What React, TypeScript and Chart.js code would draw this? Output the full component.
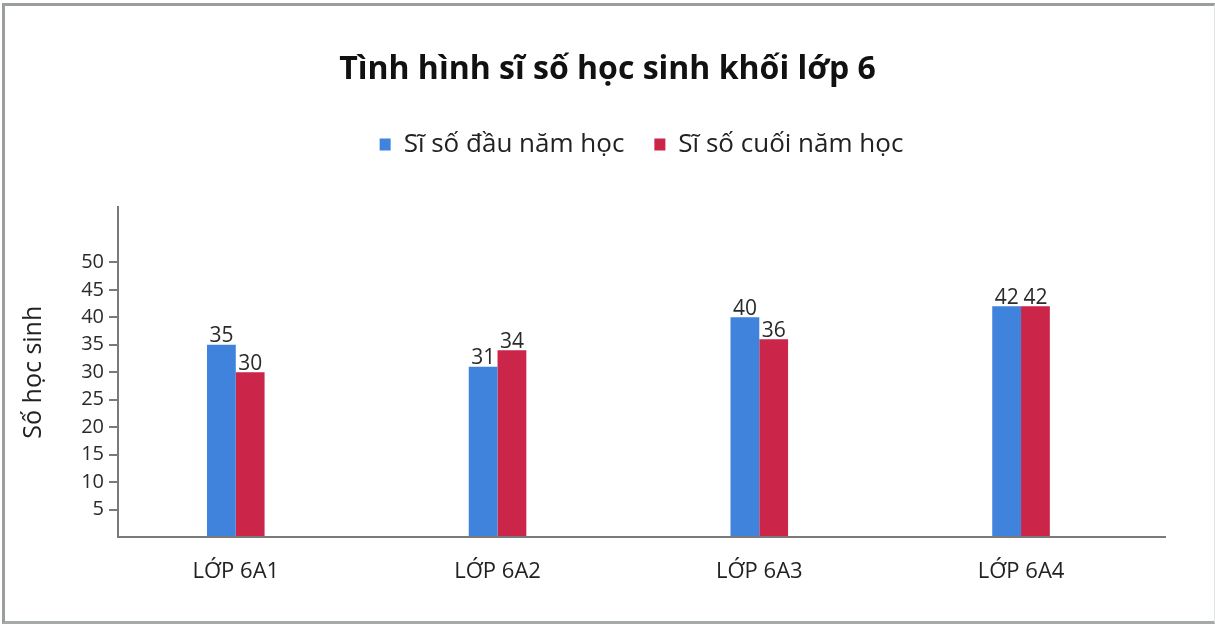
import React, { useEffect, useRef } from "react";
import { Chart, registerables } from "chart.js";

Chart.register(...registerables);

const categories = ["LỚP 6A1", "LỚP 6A2", "LỚP 6A3", "LỚP 6A4"];
const startOfYear = [35, 31, 40, 42];
const endOfYear = [30, 34, 36, 42];
const seriesNames = ["Sĩ số đầu năm học", "Sĩ số cuối năm học"];
const yTickValues = [5, 10, 15, 20, 25, 30, 35, 40, 45, 50];
const chartTitle = "Tình hình sĩ số học sinh khối lớp 6";
const yAxisTitle = "Số học sinh";

const BLUE = "#3f83dc";
const RED = "#cb2549";
const FONT = "'Open Sans', 'Noto Sans', sans-serif";

const valueLabels = {
  id: "valueLabels",
  afterDatasetsDraw(chart: any) {
    const ctx = chart.ctx;
    ctx.save();
    ctx.font = `21px ${FONT}`;
    ctx.fillStyle = "#2a2a2a";
    ctx.textAlign = "center";
    ctx.textBaseline = "bottom";
    chart.data.datasets.forEach((ds: any, di: number) => {
      const meta = chart.getDatasetMeta(di);
      meta.data.forEach((el: any, i: number) => {
        const v = ds.data[i].y;
        ctx.fillText(String(v), el.x, el.y + 2);
      });
    });
    ctx.restore();
  },
};

export default function App() {
  const ref = useRef<HTMLCanvasElement>(null);
  useEffect(() => {
    if (!ref.current) return;
    const chart = new Chart(ref.current, {
      type: "bar",
      data: {
        datasets: [
          {
            label: seriesNames[0],
            data: startOfYear.map((v, i) => ({ x: i, y: v })),
            backgroundColor: BLUE,
            categoryPercentage: 0.22,
            barPercentage: 1,
          },
          {
            label: seriesNames[1],
            data: endOfYear.map((v, i) => ({ x: i, y: v })),
            backgroundColor: RED,
            categoryPercentage: 0.22,
            barPercentage: 1,
          },
        ],
      },
      options: {
        animation: false,
        responsive: false,
        maintainAspectRatio: false,
        layout: { padding: 0 },
        plugins: {
          tooltip: { enabled: false },
          title: {
            display: true,
            text: chartTitle,
            color: "#111",
            font: { family: FONT, size: 32, weight: "bold", lineHeight: 1.2 },
            padding: { top: 51, bottom: 12 },
          },
          legend: {
            display: true,
            position: "top",
            fullSize: false,
            labels: {
              color: "#222",
              font: { family: FONT, size: 26 },
              boxWidth: 11,
              boxHeight: 12,
              padding: 30,
            },
          },
          subtitle: {
            display: true,
            text: " ",
            color: "rgba(0,0,0,0)",
            weight: 500,
            font: { size: 10, lineHeight: 1.2 },
            padding: { top: 28, bottom: 0 },
          },
        },
        scales: {
          x: {
            type: "linear",
            offset: false,
            min: -0.45,
            max: 3.55,
            afterBuildTicks: (s: any) => {
              s.ticks = categories.map((_, i) => ({ value: i }));
            },
            afterFit: (s: any) => {
              s.height = 87;
            },
            ticks: {
              autoSkip: false,
              maxRotation: 0,
              padding: 22,
              color: "#222",
              font: { family: FONT, size: 22 },
              callback: (v: any) => categories[v] ?? "",
            },
            grid: { display: true, offset: false, drawOnChartArea: false, drawTicks: false },
            border: { display: true, color: "#7a7a7a", width: 2 },
          },
          y: {
            type: "linear",
            min: 0,
            max: 60,
            afterFit: (s: any) => {
              s.width = 118;
            },
            title: {
              display: true,
              text: yAxisTitle,
              color: "#222",
              font: { family: FONT, size: 25 },
              padding: { top: 19, bottom: 0 },
            },
            ticks: {
              stepSize: 5,
              padding: 5,
              color: "#2a2a2a",
              font: { family: FONT, size: 20 },
              callback: (v: any) => (yTickValues.includes(v) ? String(v) : ""),
            },
            grid: {
              drawOnChartArea: false,
              drawTicks: true,
              tickLength: 9,
              lineWidth: 2,
              color: (c: any) =>
                c.tick && yTickValues.includes(c.tick.value) ? "#7a7a7a" : "rgba(0,0,0,0)",
            },
            border: { display: true, color: "#7a7a7a", width: 2 },
          },
          yRight: {
            type: "linear",
            position: "right",
            display: true,
            afterFit: (s: any) => {
              s.width = 50;
            },
            ticks: { display: false },
            grid: { display: false },
            border: { display: false },
          },
        },
      } as any,
      plugins: [valueLabels],
    });
    return () => chart.destroy();
  }, []);

  return (
    <div style={{ position: "fixed", left: 0, top: 0, width: 1215, height: 624, background: "#fff" }}>
      <canvas ref={ref} width={1215} height={624} style={{ position: "absolute", left: 0, top: 0, width: 1215, height: 624 }} />
      <div
        style={{
          position: "absolute",
          left: 2,
          top: 3,
          width: 1209,
          height: 615,
          borderLeft: "3px solid #9a9e9e",
          borderTop: "3px solid #9a9e9e",
          borderBottom: "3px solid #a5a9a9",
          borderRight: "1px solid #e2e4e4",
          pointerEvents: "none",
        }}
      />
    </div>
  );
}
